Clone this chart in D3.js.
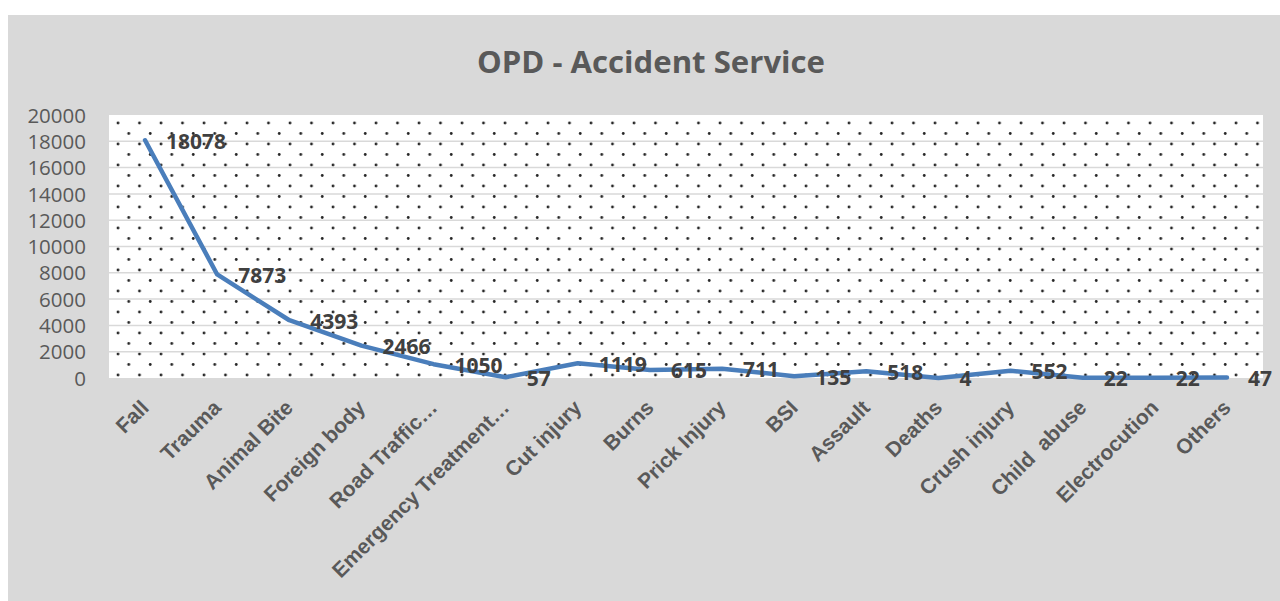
<!DOCTYPE html>
<html>
<head>
<meta charset="utf-8">
<script src="https://cdn.jsdelivr.net/npm/d3@7"></script>
<style>
  html, body { margin: 0; padding: 0; background: #fff; }
  svg { display: block; }
</style>
</head>
<body>
<div class="line-chart"></div>
<script>
const categories = ["Fall", "Trauma", "Animal Bite", "Foreign body", "Road Traffic\u2026",
    "Emergency Treatment\u2026", "Cut injury", "Burns", "Prick Injury", "BSI", "Assault",
    "Deaths", "Crush injury", "Child  abuse", "Electrocution", "Others"];
const values = [18078, 7873, 4393, 2466, 1050, 57, 1119, 615, 711, 135, 518, 4, 552, 22, 22, 47];
const yTicks = [0, 2000, 4000, 6000, 8000, 10000, 12000, 14000, 16000, 18000, 20000];
const title = "OPD - Accident Service";

const W = 1280, H = 601;
const plot = {left: 109, right: 1263, top: 115, bottom: 378};

const svg = d3.select(".line-chart")
    .append("svg")
    .attr("width", W)
    .attr("height", H);

// dotted fill for the plot area
const defs = svg.append("defs");
const pat = defs.append("pattern")
    .attr("id", "dots")
    .attr("patternUnits", "userSpaceOnUse")
    .attr("x", plot.left)
    .attr("y", plot.top)
    .attr("width", 21.5)
    .attr("height", 21);
pat.append("rect").attr("width", 21.5).attr("height", 21).attr("fill", "#fff");
pat.append("circle").attr("cx", 9).attr("cy", 8).attr("r", 1.4).attr("fill", "#262626");
pat.append("circle").attr("cx", 19.75).attr("cy", 18.5).attr("r", 1.4).attr("fill", "#262626");

// chart area
svg.append("rect")
    .attr("x", 8).attr("y", 15)
    .attr("width", W - 8).attr("height", H - 15)
    .attr("fill", "#d9d9d9");

svg.append("rect")
    .attr("x", plot.left).attr("y", plot.top)
    .attr("width", plot.right - plot.left)
    .attr("height", plot.bottom - plot.top)
    .attr("fill", "url(#dots)");

const x = d3.scalePoint()
    .domain(categories)
    .range([plot.left, plot.right])
    .padding(0.5);

const y = d3.scaleLinear()
    .domain([0, 20000])
    .range([plot.bottom, plot.top]);

// gridlines + y labels
const yAxis = d3.axisLeft(y)
    .tickValues(yTicks)
    .tickSize(0)
    .tickPadding(0)
    .tickFormat(d3.format("d"));

svg.append("g")
    .attr("class", "axis y-axis")
    .attr("transform", `translate(86,0)`)
    .call(yAxis)
    .call(g => g.select(".domain").remove())
    .call(g => g.selectAll(".tick text")
        .attr("font-family", "'Open Sans', sans-serif")
        .attr("font-size", 20.5)
        .attr("fill", "#595959")
        .attr("dy", "0.35em"));

svg.append("g")
    .selectAll("line")
    .data(yTicks.filter(d => d > 0 && d < 20000))
    .join("line")
    .attr("x1", plot.left).attr("x2", plot.right)
    .attr("y1", d => y(d)).attr("y2", d => y(d))
    .attr("stroke", "#d9d9d9")
    .attr("stroke-width", 1.5);

// category labels
svg.append("g")
    .selectAll("text")
    .data(categories)
    .join("text")
    .attr("transform", d => `translate(${x(d) + 5},409) rotate(-45)`)
    .attr("text-anchor", "end")
    .attr("font-family", "'Liberation Sans', Arial, sans-serif")
    .attr("font-weight", "bold")
    .attr("font-size", 21)
    .attr("fill", "#595959")
    .attr("xml:space", "preserve")
    .style("white-space", "pre")
    .text(d => d);

// line
const line = d3.line()
    .x((d, i) => x(categories[i]))
    .y(d => y(d));

svg.append("path")
    .datum(values)
    .attr("fill", "none")
    .attr("stroke", "#4a7ebb")
    .attr("stroke-width", 4.5)
    .attr("stroke-linejoin", "round")
    .attr("stroke-linecap", "round")
    .attr("d", line);

// data labels
svg.append("g")
    .selectAll("text")
    .data(values)
    .join("text")
    .attr("x", (d, i) => x(categories[i]) + 21)
    .attr("y", d => y(d) + 1)
    .attr("dy", "0.35em")
    .attr("font-family", "'Open Sans', sans-serif")
    .attr("font-weight", "bold")
    .attr("font-size", 21)
    .attr("fill", "#404040")
    .text(d => d);

// title
svg.append("text")
    .attr("x", 651)
    .attr("y", 73)
    .attr("text-anchor", "middle")
    .attr("font-family", "'Open Sans', sans-serif")
    .attr("font-weight", "bold")
    .attr("font-size", 31)
    .attr("fill", "#595959")
    .attr("textLength", 348)
    .attr("lengthAdjust", "spacingAndGlyphs")
    .text(title);
</script>
</body>
</html>
